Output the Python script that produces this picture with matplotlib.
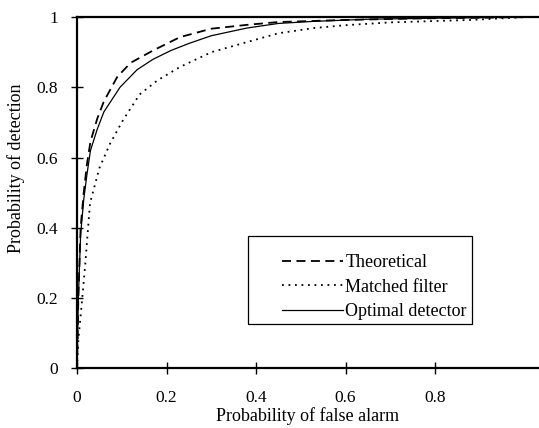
import matplotlib
matplotlib.use("Agg")
import matplotlib.pyplot as plt
from matplotlib.patches import Rectangle
from matplotlib.ticker import FormatStrFormatter

# ROC curves
pfa_theo = [0, 0.003, 0.008, 0.015, 0.022, 0.03, 0.045, 0.06, 0.09, 0.12,
            0.17, 0.23, 0.30, 0.38, 0.45, 0.60, 0.75, 1.0]
pd_theo = [0, 0.2, 0.4, 0.5, 0.58, 0.645, 0.71, 0.76, 0.83, 0.87,
           0.905, 0.943, 0.967, 0.978, 0.986, 0.992, 0.996, 1.0]

pfa_mf = [0, 0.003, 0.011, 0.018, 0.029, 0.05, 0.074, 0.103, 0.14, 0.18,
          0.23, 0.30, 0.38, 0.45, 0.53, 0.60, 0.70, 0.88, 1.0]
pd_mf = [0, 0.08, 0.19, 0.29, 0.47, 0.57, 0.64, 0.707, 0.78, 0.82,
         0.858, 0.90, 0.929, 0.954, 0.969, 0.977, 0.985, 0.992, 1.0]

pfa_opt = [0, 0.003, 0.008, 0.015, 0.022, 0.03, 0.045, 0.06, 0.096, 0.134,
           0.17, 0.21, 0.25, 0.30, 0.38, 0.45, 0.53, 0.65, 0.8, 1.0]
pd_opt = [0, 0.2, 0.38, 0.48, 0.55, 0.62, 0.68, 0.73, 0.80, 0.85,
          0.88, 0.905, 0.925, 0.947, 0.969, 0.982, 0.988, 0.994, 0.997, 1.0]

xticks = [0, 0.2, 0.4, 0.6, 0.8]
yticks = [0, 0.2, 0.4, 0.6, 0.8, 1]

plt.rcParams['font.family'] = ['Liberation Serif', 'DejaVu Serif']
plt.rcParams['font.size'] = 12

fig = plt.figure(figsize=(5.39, 4.28), dpi=100)
ax = fig.add_axes([0.1429, 0.140, 0.8571, 0.820])

ax.plot(pfa_theo, pd_theo, color='black', lw=1.3, linestyle=(0, (5, 3)),
        label='Theoretical')
ax.plot(pfa_mf, pd_mf, color='black', lw=1.3, linestyle=(0, (1, 2.6)),
        label='Matched filter')
ax.plot(pfa_opt, pd_opt, color='black', lw=0.9, linestyle='-',
        label='Optimal detector')

ax.set_xlim(0, 1.032)
ax.set_ylim(0, 1)
ax.set_xticks(xticks)
ax.set_yticks(yticks)
ax.xaxis.set_major_formatter(FormatStrFormatter('%g'))
ax.yaxis.set_major_formatter(FormatStrFormatter('%g'))
ax.tick_params(direction='inout', length=9, width=1, labelsize=12.5)
ax.tick_params(axis='x', pad=11)
ax.tick_params(axis='y', pad=9)

for s in ['left', 'bottom', 'top']:
    ax.spines[s].set_linewidth(1.6)
ax.spines['right'].set_visible(False)

ax.set_xlabel('Probability of false alarm', fontsize=13)
ax.set_ylabel('Probability of detection', fontsize=13)
ax.xaxis.set_label_coords(0.5, -0.11)
ax.yaxis.set_label_coords(-0.112, 0.57)

# legend with its own frame (wider margin on the left as in the original)
leg = ax.legend(loc='upper left', bbox_to_anchor=(0.443, 0.325),
                frameon=False, handlelength=3.4, handletextpad=0.12,
                labelspacing=0.42, fontsize=13, borderpad=0, borderaxespad=0)
ax.add_patch(Rectangle((0.370, 0.125), 0.485, 0.250, transform=ax.transAxes,
                       fill=False, edgecolor='black', lw=0.9, zorder=5))

fig.savefig('out.png', dpi=100)
